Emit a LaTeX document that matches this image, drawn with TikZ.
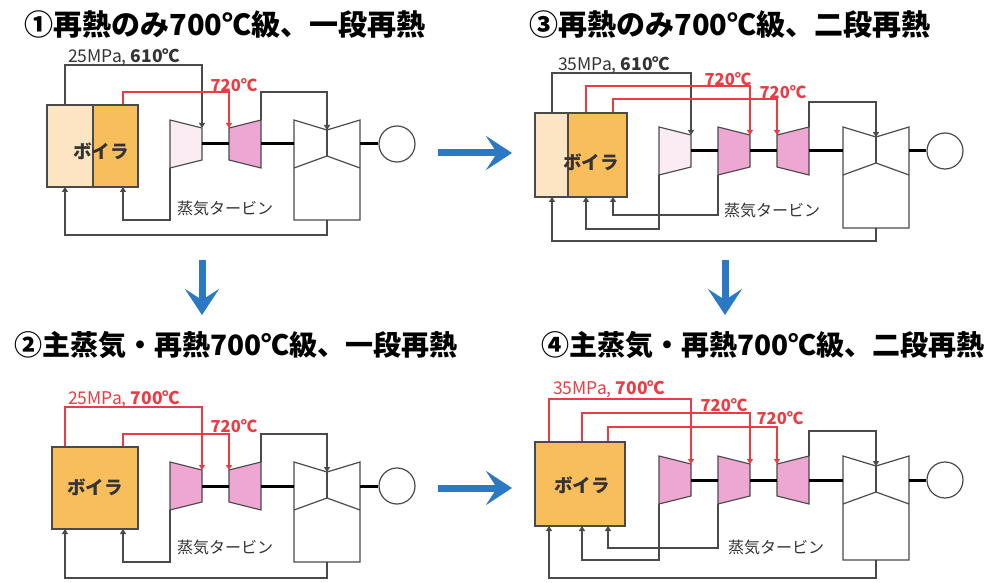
\documentclass[tikz,border=0pt]{standalone}
\usepackage{fontspec}
\setmainfont{Noto Sans CJK JP}
\usetikzlibrary{arrows.meta}
\definecolor{pipegray}{HTML}{4A4A4A}
\definecolor{hotred}{HTML}{EC3B42}
\definecolor{boilerpale}{HTML}{FDE4C2}
\definecolor{boilerorange}{HTML}{F9BE5C}
\definecolor{hppale}{HTML}{FBEBF3}
\definecolor{turbpink}{HTML}{EEA7D2}
\definecolor{arrowblue}{HTML}{2B79C4}
\newcommand{\turbR}[3]{\filldraw[casing,fill=#1] (#2,#3-24) -- ++(32,8) -- ++(0,32) -- ++(-32,8) -- cycle;}
\newcommand{\turbL}[3]{\filldraw[casing,fill=#1] (#2,#3-16) -- ++(32,-8) -- ++(0,48) -- ++(-32,-8) -- cycle;}
\newcommand{\lpturb}[3]{%
  \draw[casing] (#1,#2-24) -- ++(33,10) -- ++(33,-10) -- (#1+66,#3) -- (#1,#3) -- cycle;
  \draw[casing] (#1,#2+24) -- ++(33,-12) -- ++(33,12);
  \draw[casing] (#1+33,#2-14) -- (#1+33,#2+12);}
\tikzset{
  casing/.style={draw=pipegray, line width=1.2pt},
  pipe/.style={draw=pipegray, line width=1.2pt, -{Triangle[length=5pt,width=6pt]}},
  hot/.style={draw=hotred, line width=1.2pt, -{Triangle[length=5pt,width=6pt]}},
  shaft/.style={draw=black, line width=3pt},
  boiler/.style={draw=pipegray, line width=1.2pt, minimum height=82, inner sep=0},
  gen/.style={circle, draw=pipegray, line width=1.2pt, minimum size=36, inner sep=0},
  title/.style={font=\bfseries\fontsize{29}{31}\selectfont, inner sep=0},
  lbl/.style={font=\fontsize{16}{18}\selectfont, text=black!80, inner sep=0},
  mslbl/.style={font=\fontsize{17.5}{19}\selectfont, text=black!80, inner sep=0, anchor=west},
  boilertext/.style={font=\bfseries\fontsize{18.5}{20}\selectfont, text=black!80, inner sep=0},
  temp/.style={font=\bfseries\fontsize{16.5}{18}\selectfont, text=hotred, inner sep=0},
  bigarrow/.style={draw=arrowblue, line width=7pt, -{Stealth[length=26pt,width=34pt,inset=11pt]}}
}
\begin{document}
\begin{tikzpicture}[x=1pt,y=-1pt]
\useasboundingbox (0,0) rectangle (986,583);
\node[title] (t1) at (225,25) {①再熱のみ700℃級、一段再熱};
\node[title] (t3) at (730,25) {③再熱のみ700℃級、二段再熱};
\node[title, font=\bfseries\fontsize{28}{30}\selectfont] (t2) at (236,345) {②主蒸気・再熱700℃級、一段再熱};
\node[title, font=\bfseries\fontsize{28}{30}\selectfont] (t4) at (763,345) {④主蒸気・再熱700℃級、二段再熱};

% 1
\draw[pipe] (65,105) coordinate (ms1) -- ++(0,-40) -| (202,128) coordinate (hp1in);
\draw[hot] (123,105) coordinate (rh1) -- ++(0,-13) -| (229,128) coordinate (ip1in);
\draw[pipe] (261,120) coordinate (ip1out) -- ++(0,-28) -| (327,130) coordinate (lp1in);
\draw[pipe] (170,168) coordinate (hp1out) -- ++(0,52) -| (123,187) coordinate (cr1);
\draw[pipe] (327,220) coordinate (lp1out) -- ++(0,15) -| (65,187) coordinate (fw1);
\node[boiler, fill=boilerpale, minimum width=46] (boi1a) at (70,146) {};
\node[boiler, fill=boilerorange, minimum width=45] (boi1b) at (115.5,146) {};
\node[boilertext] (boi1t) at (101,151) {ボイラ};
\turbR{hppale}{170}{144}
\turbL{turbpink}{229}{144}
\lpturb{294}{144}{220}
\node[gen] (gen1) at (397,144) {};
\draw[shaft] (202,144) -- (229,144) (261,144) -- (294,144) (360,144) -- (gen1);
\node[mslbl] (ms1l) at (68,57) {25MPa, \textbf{610℃}};
\node[temp] (rh1l) at (234,85) {720℃};
\node[lbl] (st1l) at (225,208) {蒸気タービン};

% 2
\begin{scope}[shift={(0,342)}]
\draw[hot] (65,105) coordinate (ms2) -- ++(0,-40) -| (202,128) coordinate (hp2in);
\draw[hot] (123,105) coordinate (rh2) -- ++(0,-13) -| (229,128) coordinate (ip2in);
\draw[pipe] (261,120) coordinate (ip2out) -- ++(0,-28) -| (327,130) coordinate (lp2in);
\draw[pipe] (170,168) coordinate (hp2out) -- ++(0,52) -| (123,187) coordinate (cr2);
\draw[pipe] (327,220) coordinate (lp2out) -- ++(0,16) -| (65,187) coordinate (fw2);
\node[boiler, fill=boilerorange, minimum width=86] (boi2) at (95,146) {};
\node[boilertext] (boi2t) at (95,145) {ボイラ};
\turbR{turbpink}{170}{144}
\turbL{turbpink}{229}{144}
\lpturb{294}{144}{220}
\node[gen] (gen2) at (397,144) {};
\draw[shaft] (202,144) -- (229,144) (261,144) -- (294,144) (360,144) -- (gen2);
\node[mslbl, text=hotred] (ms2l) at (68,57) {25MPa, \textbf{700℃}};
\node[temp] (rh2l) at (234,84) {720℃};
\node[lbl] (st2l) at (225,205) {蒸気タービン};
\end{scope}

% 3
\draw[pipe] (552,113) coordinate (ms3) -- ++(0,-40) -| (691,135) coordinate (hp3in);
\draw[hot] (586,113) coordinate (rh3a) -- ++(0,-27) -| (750,135) coordinate (ip3ain);
\draw[hot] (613,113) coordinate (rh3b) -- ++(0,-14) -| (777,135) coordinate (ip3bin);
\draw[pipe] (809,127) coordinate (ip3out) -- ++(0,-25) -| (876,137) coordinate (lp3in);
\draw[pipe] (659,175) coordinate (hp3out) -- ++(0,54) -| (586,197) coordinate (cr3a);
\draw[pipe] (718,175) coordinate (ip3aout) -- ++(0,40) -| (613,197) coordinate (cr3b);
\draw[pipe] (876,228) coordinate (lp3out) -- ++(0,13) -| (552,197) coordinate (fw3);
\node[boiler, fill=boilerpale, minimum width=33, minimum height=84] (boi3a) at (551.5,155) {};
\node[boiler, fill=boilerorange, minimum width=59, minimum height=84] (boi3b) at (597.5,155) {};
\node[boilertext] (boi3t) at (591,162) {ボイラ};
\turbR{hppale}{659}{151}
\turbR{turbpink}{718}{151}
\turbL{turbpink}{777}{151}
\lpturb{843}{151}{228}
\node[gen] (gen3) at (945,151) {};
\draw[shaft] (691,151) -- (718,151) (750,151) -- (777,151) (809,151) -- (843,151) (909,151) -- (gen3);
\node[mslbl] (ms3l) at (558,65) {35MPa, \textbf{610℃}};
\node[temp] (rh3al) at (728,79) {720℃};
\node[temp] (rh3bl) at (783,92) {720℃};
\node[lbl] (st3l) at (772,210) {蒸気タービン};

% 4
\begin{scope}[shift={(0,329)}]
\draw[hot] (549,113) coordinate (ms4) -- ++(0,-43) -| (691,135) coordinate (hp4in);
\draw[hot] (582,113) coordinate (rh4a) -- ++(0,-29) -| (750,135) coordinate (ip4ain);
\draw[hot] (608,113) coordinate (rh4b) -- ++(0,-15) -| (777,135) coordinate (ip4bin);
\draw[pipe] (809,127) coordinate (ip4out) -- ++(0,-25) -| (876,137) coordinate (lp4in);
\draw[pipe] (659,175) coordinate (hp4out) -- ++(0,56) -| (582,197) coordinate (cr4a);
\draw[pipe] (718,175) coordinate (ip4aout) -- ++(0,44) -| (608,197) coordinate (cr4b);
\draw[pipe] (876,231) coordinate (lp4out) -- ++(0,18) -| (549,197) coordinate (fw4);
\node[boiler, fill=boilerorange, minimum width=90, minimum height=84] (boi4) at (580,155) {};
\node[boilertext] (boi4t) at (582,156) {ボイラ};
\turbR{turbpink}{659}{151}
\turbR{turbpink}{718}{151}
\turbL{turbpink}{777}{151}
\lpturb{843}{151}{231}
\node[gen] (gen4) at (945,151) {};
\draw[shaft] (691,151) -- (718,151) (750,151) -- (777,151) (809,151) -- (843,151) (909,151) -- (gen4);
\node[mslbl, text=hotred] (ms4l) at (553,60) {35MPa, \textbf{700℃}};
\node[temp] (rh4al) at (724,76) {720℃};
\node[temp] (rh4bl) at (780,89) {720℃};
\node[lbl] (st4l) at (776,218) {蒸気タービン};
\end{scope}

\coordinate (a1s) at (438,153); \coordinate (a1e) at (512,153);
\coordinate (a2s) at (202,260); \coordinate (a2e) at (202,315);
\coordinate (a3s) at (725,260); \coordinate (a3e) at (725,315);
\coordinate (a4s) at (438,488); \coordinate (a4e) at (512,488);
\draw[bigarrow] (a1s) -- (a1e);
\draw[bigarrow] (a2s) -- (a2e);
\draw[bigarrow] (a3s) -- (a3e);
\draw[bigarrow] (a4s) -- (a4e);
\end{tikzpicture}
\end{document}
